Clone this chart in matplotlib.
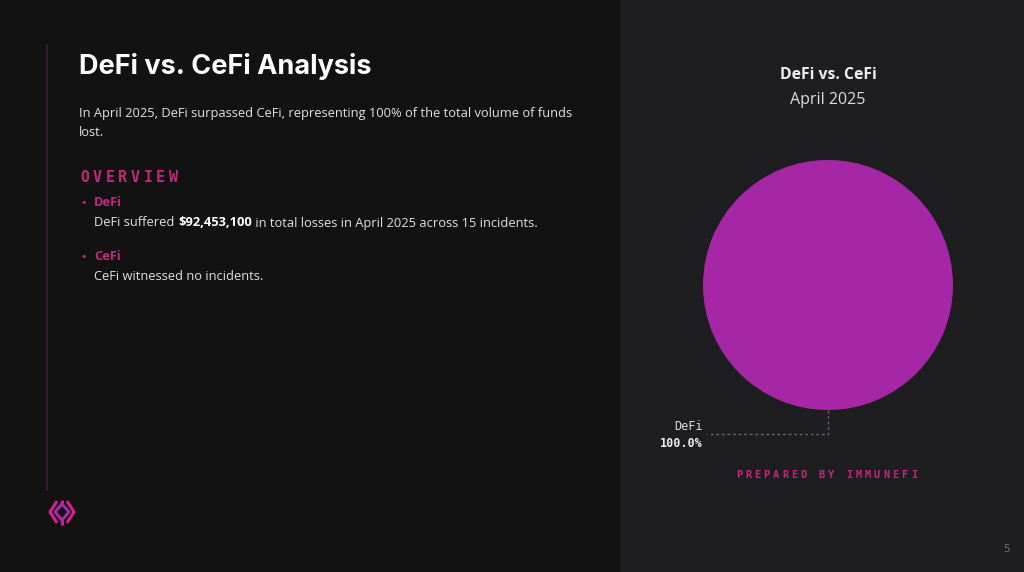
import matplotlib
matplotlib.use('Agg')
import matplotlib.pyplot as plt
from matplotlib.patches import Rectangle

# data
labels = ['DeFi', 'CeFi']
losses = [92453100, 0]
incidents = [15, 0]
month = 'April 2025'
colors = ['#a627a5', '#555555']

pink = '#c2287f'
bg_left = '#121212'
bg_right = '#1e1e20'

fig = plt.figure(figsize=(10.24, 5.72), dpi=100, facecolor=bg_left)

# overlay axes in pixel coords for the page decoration
bg = fig.add_axes([0, 0, 1, 1])
bg.set_xlim(0, 1024)
bg.set_ylim(572, 0)
bg.axis('off')
bg.add_patch(Rectangle((621, 0), 403, 572, color=bg_right, zorder=0))
bg.plot([47, 47], [45, 490], color='#3b1838', lw=1.5)

# logo
lc = dict(color='#d0208e', lw=2.2, solid_capstyle='butt')
bg.plot([57, 50, 57], [501, 512, 523], **lc)
bg.plot([67, 74, 67], [501, 512, 523], **lc)
bg.plot([62, 69, 62, 55, 62], [504, 512, 520, 512, 504], color='#a22aa6', lw=2.2)
bg.plot([62, 62], [500, 504], **lc)
bg.plot([62, 62], [520, 525], **lc)

# left text
bg.text(79, 66, 'DeFi vs. CeFi Analysis', family='Inter', weight='bold',
        fontsize=19.5, color='white', va='center')
total = sum(losses)
share = losses[0] / total * 100
fs = 9.3
bg.text(79, 113, f'In {month}, DeFi surpassed CeFi, representing {share:.0f}% of the total volume of funds',
        family='Open Sans', fontsize=fs, color='#e2e2e2', va='center')
bg.text(79, 132, 'lost.', family='Open Sans', fontsize=fs, color='#e2e2e2', va='center')


def spaced(x, y, s, step, size):
    for i, ch in enumerate(s):
        bg.text(x + i * step, y, ch, family='DejaVu Sans Mono', weight='bold',
                fontsize=size, color=pink, va='center', ha='left')


spaced(80, 178, 'OVERVIEW', 12.7, 10.8)

fig.canvas.draw()
renderer = fig.canvas.get_renderer()


def run_text(x, y, parts):
    # draw pieces of text one after another on the same line
    for s, w in parts:
        t = bg.text(x, y, s, family='Open Sans', weight=w, fontsize=fs,
                    color='white' if w == 'bold' else '#e2e2e2', va='center')
        bb = t.get_window_extent(renderer)
        x += bb.width
        if s.endswith(' '):
            x += 1


for lab, loss, n, y in zip(labels, losses, incidents, [203, 257]):
    bg.text(80, y, '•', fontsize=8, color=pink, va='center', family='DejaVu Sans')
    bg.text(94, y, lab, family='Open Sans', weight='bold', fontsize=fs, color=pink, va='center')
    if n > 0:
        run_text(94, y + 20, [(f'{lab} suffered ', 'normal'), (f'${loss:,}', 'bold'),
                              (f' in total losses in {month} across {n} incidents.', 'normal')])
    else:
        run_text(94, y + 20, [(f'{lab} witnessed no incidents.', 'normal')])

# right panel titles
bg.text(828, 75, 'DeFi vs. CeFi', family='Open Sans', weight='bold', fontsize=11.3,
        color='#eeeeee', ha='center', va='center')
bg.text(828, 100, month, family='Open Sans', fontsize=11.5, color='#dddddd',
        ha='center', va='center')
spaced(736, 475, 'PREPARED BY IMMUNEFI', 9.2, 7.5)
bg.text(1007, 549, '5', family='Open Sans', fontsize=8, color='#777777', ha='center', va='center')

# pie
ax = fig.add_axes([703 / 1024, 1 - 410 / 572, 250 / 1024, 250 / 572])
ax.pie(losses, colors=colors, startangle=90, counterclock=False, radius=1)
ax.set_xlim(-1, 1)
ax.set_ylim(-1, 1)
ax.set_aspect('equal')
ax.axis('off')

# leader line and label for DeFi
ax.plot([0, 0, -0.97], [-1.0, -1.19, -1.19], color='#666666', lw=1, ls=(0, (2, 2)), clip_on=False)
ax.text(-1.0, -1.13, labels[0], family='DejaVu Sans Mono', fontsize=8.5, color='#dddddd',
        ha='right', va='center')
ax.text(-1.0, -1.265, f'{share:.1f}%', family='DejaVu Sans Mono', weight='bold', fontsize=8.5,
        color='#eeeeee', ha='right', va='center')

fig.savefig('out.png', dpi=100, facecolor=fig.get_facecolor())
